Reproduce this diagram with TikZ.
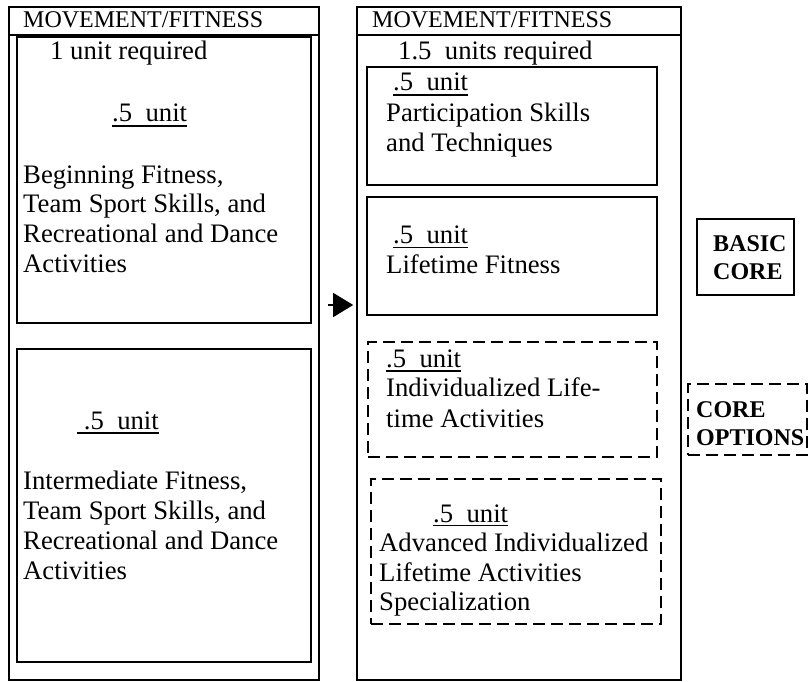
\documentclass[tikz,border=0pt]{standalone}
\usepackage{fontspec}
\setmainfont{Liberation Serif}
\usetikzlibrary{arrows.meta}
\begin{document}
\begin{tikzpicture}[x=1pt,y=-1pt,
  outerbox/.style={draw,line width=1.6pt,inner sep=0pt},
  solidbox/.style={draw,line width=1.4pt,inner sep=0pt},
  dashbox/.style={draw,line width=1.3pt,dash pattern=on 12pt off 6pt,inner sep=0pt},
  hdr/.style={anchor=base west,inner sep=0pt,font=\fontsize{24}{28}\selectfont},
  txt/.style={anchor=base west,inner sep=0pt,align=left,font=\fontsize{26.7}{29.6}\selectfont},
  lbl/.style={anchor=base west,inner sep=0pt,align=left,font=\bfseries\fontsize{24}{28}\selectfont},
  uline/.style={line width=1.3pt}]
\useasboundingbox (0,0) rectangle (809,682);
% left column
\node[outerbox,minimum width=310,minimum height=673] (lout) at (164,343.5) {};
\node[outerbox,minimum width=310,minimum height=28] (lhead) at (164,21) {};
\node[hdr] (lht) at (23,28) {MOVEMENT/FITNESS};
\node[txt] (lreq) at (50,60) {1 unit required};
\node[solidbox,minimum width=294,minimum height=286] (l1) at (164,180) {};
\node[txt] (l1u) at (112,122) {.5\ \ unit};
\draw[uline] ([yshift=-4pt]l1u.base west) -- ([yshift=-4pt]l1u.base east);
\node[txt] (l1t) at (23,272) {Beginning Fitness,\\Team Sport Skills, and\\Recreational and Dance\\Activities};
\node[solidbox,minimum width=294,minimum height=313] (l2) at (164,505.5) {};
\node[txt] (l2u) at (77,429) {\ .5\ \ unit};
\draw[uline] ([yshift=-4pt]l2u.base west) -- ([yshift=-4pt]l2u.base east);
\node[txt,font=\fontsize{26.7}{29.7}\selectfont] (l2t) at (23,579) {Intermediate Fitness,\\Team Sport Skills, and\\Recreational and Dance\\Activities};
% right column
\node[outerbox,minimum width=324,minimum height=673] (rout) at (519,343.5) {};
\node[outerbox,minimum width=324,minimum height=28] (rhead) at (519,21) {};
\node[hdr] (rht) at (372,28) {MOVEMENT/FITNESS};
\node[txt] (rreq) at (398,60) {1.5\ \ units required};
\node[solidbox,minimum width=290,minimum height=118] (r1) at (512,126) {};
\node[txt] (r1u) at (393,91) {.5\ \ unit};
\draw[uline] ([yshift=-4pt]r1u.base west) -- ([yshift=-4pt]r1u.base east);
\node[txt,font=\fontsize{26.7}{30}\selectfont] (r1t) at (386,152) {Participation Skills\\and Techniques};
\node[solidbox,minimum width=290,minimum height=118] (r2) at (512,256) {};
\node[txt] (r2u) at (393,243) {.5\ \ unit};
\draw[uline] ([yshift=-4.5pt]r2u.base west) -- ([yshift=-4.5pt]r2u.base east);
\node[txt] (r2t) at (386,273.5) {Lifetime Fitness};
\node[dashbox,minimum width=289,minimum height=115] (r3) at (512.5,399.5) {};
\node[txt] (r3u) at (386,367) {.5\ \ unit};
\draw[uline] ([yshift=-4pt]r3u.base west) -- ([yshift=-4pt]r3u.base east);
\node[txt,font=\fontsize{26.7}{30.5}\selectfont] (r3t) at (386,427.3) {Individualized Life-\\time Activities};
\node[dashbox,minimum width=290,minimum height=145] (r4) at (516,551.5) {};
\node[txt] (r4u) at (433,522.5) {.5\ \ unit};
\draw[uline] ([yshift=-3pt]r4u.base west) -- ([yshift=-3pt]r4u.base east);
\node[txt,font=\fontsize{26.7}{29.5}\selectfont] (r4t) at (379,610.7) {Advanced Individualized\\Lifetime Activities\\Specialization};
% side labels
\node[solidbox,minimum width=97,minimum height=76] (basic) at (745.5,257) {};
\node[lbl] (basict) at (713,279) {BASIC\\CORE};
\node[dashbox,minimum width=119,minimum height=71] (opts) at (747.5,419.5) {};
\node[lbl] (optst) at (696,445) {CORE\\OPTIONS};
% arrow
\coordinate (ast) at (328,305);
\draw[line width=1.4pt,-{Triangle[length=20pt,width=24pt]},shorten >=3pt] (ast) -- (rout.west |- ast);
\end{tikzpicture}
\end{document}
